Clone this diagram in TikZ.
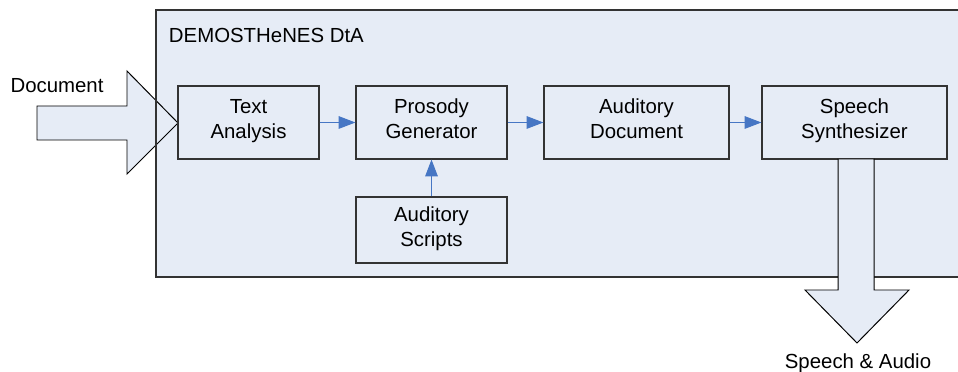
\documentclass[tikz,border=0pt]{standalone}
\usepackage{fontspec}
\setmainfont{Liberation Sans}
\usepackage{xcolor}
\usetikzlibrary{positioning,calc,arrows.meta}

\definecolor{panelfill}{RGB}{230,236,246}
\definecolor{linkblue}{RGB}{70,118,196}

\begin{document}
\begin{tikzpicture}[x=0.025cm, y=-0.025cm,
        every node/.style={font=\fontsize{14.5}{17.7}\selectfont},
        blk/.style={draw=black!80, line width=0.8pt, fill=panelfill, align=center, inner sep=0pt, minimum height=1.825cm,
            execute at begin node=\strut, execute at end node=\rule[-1.5pt]{0pt}{0pt}},
        link/.style={draw=linkblue, line width=0.7pt, -{Triangle[length=12pt,width=9pt]}},
        bigarrow/.style={draw=black, line width=0.7pt, fill=panelfill, line join=miter}]
        \useasboundingbox (0,0) rectangle (958,372);

        % DtA panel
        \fill[panelfill] (156,10) rectangle (970,277);
        \node[anchor=west] (dta) at (164,35) {DEMOSTHeNES DtA};

        % Document input arrow
        \draw[bigarrow] (37,106) -- (127,106) -- (127,71) -- (178,123) -- (127,174) -- (127,140) -- (37,140) -- cycle;
        \node (doc) at (57,86) {Document};

        % panel border
        \draw[black!80, line width=0.8pt] (970,10) -- (156,10) -- (156,277) -- (970,277);

        % Blocks
        \node[blk, minimum width=3.525cm] (ta) at (248.5,122.5) {Text\\Analysis};
        \node[blk, minimum width=3.775cm] (pg) at (431.5,122.5) {Prosody\\Generator};
        \node[blk, minimum width=4.625cm] (ad) at (636.5,122.5) {Auditory\\Document};
        \node[blk, minimum width=4.625cm] (ss) at (854.5,122.5) {Speech\\Synthesizer};
        \node[blk, minimum width=3.775cm, minimum height=1.65cm] (as) at (431.5,230) {Auditory\\Scripts};

        % Links
        \draw[link] (ta) -- (pg);
        \draw[link] (pg) -- (ad);
        \draw[link] (ad) -- (ss);
        \draw[link] (as) -- (pg);

        % Speech output arrow
        \draw[bigarrow] (838,159) -- (874,159) -- (874,290) -- (909,290) -- (857,343) -- (805,290) -- (838,290) -- cycle;
        \node (out) at (858,363) {Speech \& Audio};

\end{tikzpicture}
\end{document}
